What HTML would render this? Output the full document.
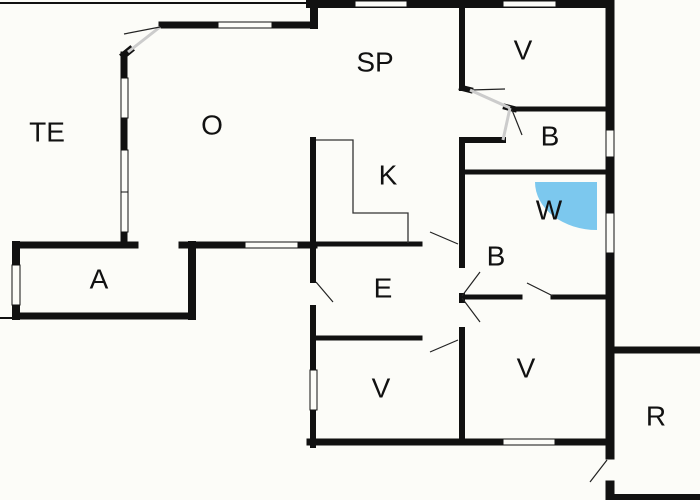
<!DOCTYPE html>
<html><head><meta charset="utf-8"><style>
html,body{margin:0;padding:0;background:#fcfcf8;}
svg{display:block}
text{font-family:"Liberation Sans",sans-serif;font-size:28px;fill:#111;text-anchor:middle;dominant-baseline:central}
</style></head><body>
<svg width="700" height="500" viewBox="0 0 700 500">
<rect width="700" height="500" fill="#fcfcf8"/>
<g stroke="#111" stroke-linecap="square" fill="none">
<line x1="0" y1="3" x2="310" y2="3" stroke-width="2"/>
<line x1="0" y1="318" x2="12" y2="318" stroke-width="2"/>
<line x1="314" y1="0" x2="314" y2="25" stroke-width="8"/>
<line x1="162" y1="25" x2="314" y2="25" stroke-width="7"/>
<line x1="124" y1="55" x2="124" y2="244" stroke-width="7"/>
<line x1="124" y1="55" x2="130" y2="50" stroke-width="7"/>
<line x1="16" y1="245" x2="135" y2="245" stroke-width="7"/>
<line x1="182" y1="245" x2="314" y2="245" stroke-width="7"/>
<line x1="16" y1="245" x2="16" y2="316" stroke-width="8"/>
<line x1="16" y1="316" x2="192" y2="316" stroke-width="7"/>
<line x1="192" y1="245" x2="192" y2="316" stroke-width="8"/>
<line x1="310" y1="4" x2="610" y2="4" stroke-width="8"/>
<line x1="610" y1="0" x2="610" y2="455" stroke-width="9"/>
<line x1="610" y1="485" x2="610" y2="500" stroke-width="9"/>
<line x1="462" y1="4" x2="462" y2="88" stroke-width="6"/>
<line x1="462" y1="88" x2="470" y2="90" stroke-width="6"/>
<line x1="506" y1="107" x2="514" y2="109" stroke-width="6"/>
<line x1="514" y1="109" x2="607" y2="109" stroke-width="5"/>
<line x1="462" y1="140" x2="503" y2="140" stroke-width="6"/>
<line x1="462" y1="140" x2="462" y2="265" stroke-width="6"/>
<line x1="462" y1="296" x2="462" y2="300" stroke-width="6"/>
<line x1="462" y1="330" x2="462" y2="442" stroke-width="6"/>
<line x1="462" y1="172" x2="607" y2="172" stroke-width="5"/>
<line x1="462" y1="297" x2="520" y2="297" stroke-width="5"/>
<line x1="553" y1="297" x2="607" y2="297" stroke-width="5"/>
<line x1="313" y1="140" x2="313" y2="280" stroke-width="6"/>
<line x1="313" y1="308" x2="313" y2="445" stroke-width="6"/>
<line x1="300" y1="244" x2="420" y2="244" stroke-width="5"/>
<line x1="316" y1="338" x2="420" y2="338" stroke-width="5"/>
<line x1="310" y1="442" x2="610" y2="442" stroke-width="7"/>
<line x1="610" y1="350" x2="700" y2="350" stroke-width="7"/>
<line x1="614" y1="497" x2="700" y2="497" stroke-width="6"/>
</g>
<g fill="#fcfcf8" stroke="#111" stroke-width="1">
<rect x="218" y="22" width="54" height="6"/>
<rect x="121" y="78" width="7" height="40"/>
<rect x="121" y="150" width="7" height="42"/>
<rect x="121" y="192" width="7" height="40"/>
<rect x="245" y="242" width="53" height="6"/>
<rect x="12" y="265" width="8" height="40"/>
<rect x="355" y="1" width="52" height="6"/>
<rect x="503" y="1" width="53" height="6"/>
<rect x="606" y="130" width="8" height="27"/>
<rect x="606" y="213" width="8" height="40"/>
<rect x="503" y="439" width="52" height="6"/>
<rect x="310" y="370" width="7" height="40"/>
</g>
<polyline points="316,140 353,140 353,213 408,213 408,243" fill="none" stroke="#333" stroke-width="1.3"/>
<g stroke="#222" stroke-width="1.2" fill="none">
<line x1="128" y1="52" x2="160" y2="27" stroke="#ccc" stroke-width="3"/>
<line x1="160" y1="27" x2="124" y2="34"/>
<line x1="470" y1="90" x2="505" y2="89"/>
<line x1="470" y1="90" x2="510" y2="108" stroke="#ccc" stroke-width="3"/>
<line x1="510" y1="108" x2="503" y2="140" stroke="#ccc" stroke-width="3"/>
<line x1="512" y1="110" x2="522" y2="135"/>
<line x1="430" y1="232" x2="458" y2="244"/>
<line x1="462" y1="296" x2="480" y2="272"/>
<line x1="462" y1="298" x2="480" y2="322"/>
<line x1="527" y1="283" x2="553" y2="296"/>
<line x1="430" y1="352" x2="458" y2="340"/>
<line x1="316" y1="282" x2="333" y2="302"/>
<line x1="590" y1="482" x2="607" y2="460"/>
</g>
<path d="M535,182 L597,182 L597,230 A62,48 0 0 1 535,182 Z" fill="#7cc8ee"/>
<text x="47" y="132">TE</text>
<text x="212" y="125">O</text>
<text x="375" y="62">SP</text>
<text x="523" y="50">V</text>
<text x="550" y="136">B</text>
<text x="388" y="175">K</text>
<text x="549" y="210">W</text>
<text x="496" y="256">B</text>
<text x="383" y="288">E</text>
<text x="99" y="279">A</text>
<text x="381" y="388">V</text>
<text x="526" y="368">V</text>
<text x="656" y="416">R</text>
</svg>
</body></html>
